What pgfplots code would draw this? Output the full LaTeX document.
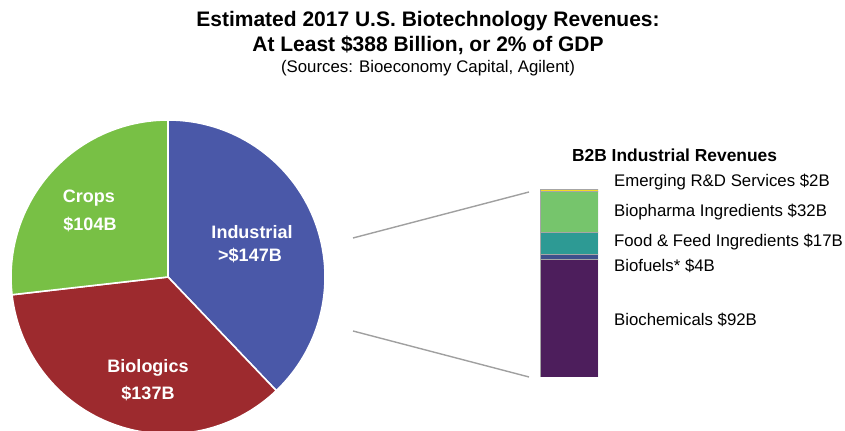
\documentclass[border=0pt]{standalone}
\usepackage{fontspec}
\setmainfont{Liberation Sans}
\usepackage{pgfplots}
\pgfplotsset{compat=1.18}
\definecolor{cInd}{RGB}{74,88,168}
\definecolor{cBio}{RGB}{157,42,46}
\definecolor{cCrop}{RGB}{120,192,69}
\definecolor{cChem}{RGB}{77,30,92}
\definecolor{cFuel}{RGB}{62,80,140}
\definecolor{cFood}{RGB}{45,154,148}
\definecolor{cPharma}{RGB}{118,197,108}
\definecolor{cRD}{RGB}{242,220,36}
\definecolor{cLine}{RGB}{160,160,160}

% pie values ($B)
\def\vInd{147}
\def\vBio{137}
\def\vCrop{104}
\pgfmathsetmacro\vTot{\vInd+\vBio+\vCrop}
\pgfmathsetmacro\aA{90}
\pgfmathsetmacro\aB{\aA-360*(\vInd/\vTot)}
\pgfmathsetmacro\aC{\aB-360*(\vBio/\vTot)}
\pgfmathsetmacro\aD{\aC-360*(\vCrop/\vTot)}
\def\R{78.5pt}

\begin{document}
\begin{tikzpicture}
\useasboundingbox (0,0) rectangle (422.5pt,215.5pt);
% main canvas: 1 unit = 1 px of the reference
\begin{axis}[
  at={(0,0)},anchor=south west,
  scale only axis,width=422.5pt,height=215.5pt,
  xmin=0,xmax=845,ymin=0,ymax=431,
  hide axis,clip=true,
]
\fill[cInd,draw=white,line width=0.8pt] (axis cs:168,154) -- +(\aA:\R) arc[start angle=\aA,end angle=\aB,radius=\R] -- cycle;
\fill[cBio,draw=white,line width=0.8pt] (axis cs:168,154) -- +(\aB:\R) arc[start angle=\aB,end angle=\aC,radius=\R] -- cycle;
\fill[cCrop,draw=white,line width=0.8pt] (axis cs:168,154) -- +(\aC:\R) arc[start angle=\aC,end angle=\aD,radius=\R] -- cycle;
% connectors
\addplot[cLine,line width=0.7pt] coordinates {(353,193) (529,239)};
\addplot[cLine,line width=0.7pt] coordinates {(353,100) (529,54)};
% pie labels
\begin{scope}[every node/.style={text=white,font=\fontsize{9}{10.8}\selectfont\bfseries}]
\node at (axis cs:252,199) {Industrial};
\node at (axis cs:250,176) {>\$147B};
\node at (axis cs:89,233) {Crops};
\node at (axis cs:90,207) {\$104B};
\node at (axis cs:148,63) {Biologics};
\node at (axis cs:148,38) {\$137B};
\end{scope}
% titles
\node[font=\fontsize{10.5}{12.6}\selectfont\bfseries] at (axis cs:428,410) {Estimated 2017 U.S. Biotechnology Revenues:};
\node[font=\fontsize{10.5}{12.6}\selectfont\bfseries] at (axis cs:428,386) {At Least \$388 Billion, or 2\% of GDP};
\node[font=\fontsize{8.4}{10}\selectfont] at (axis cs:428,363) {(Sources: Bioeconomy Capital, Agilent)};
% bar labels
\node[anchor=west,font=\fontsize{8.7}{10.4}\selectfont\bfseries] at (axis cs:565,276) {B2B Industrial Revenues};
\begin{scope}[every node/.style={anchor=west,font=\fontsize{8.4}{10}\selectfont}]
\node at (axis cs:607,249) {Emerging R\&D Services \$2B};
\node at (axis cs:607,219) {Biopharma Ingredients \$32B};
\node at (axis cs:607,189) {Food \& Feed Ingredients \$17B};
\node at (axis cs:607,165) {Biofuels* \$4B};
\node at (axis cs:607,111) {Biochemicals \$92B};
\end{scope}
\end{axis}
% stacked bar of industrial revenues
\begin{axis}[
  at={(270pt,27pt)},anchor=south west,
  scale only axis,width=29pt,height=94pt,
  xmin=-0.5,xmax=0.5,ymin=0,ymax=147,
  hide axis,ybar stacked,bar width=1,
]
\addplot[fill=cChem,draw=gray!70,line width=0.3pt] coordinates {(0,92)};
\addplot[fill=cFuel,draw=gray!70,line width=0.3pt] coordinates {(0,4)};
\addplot[fill=cFood,draw=gray!70,line width=0.3pt] coordinates {(0,17)};
\addplot[fill=cPharma,draw=gray!70,line width=0.3pt] coordinates {(0,32)};
\addplot[fill=cRD,draw=gray!70,line width=0.3pt] coordinates {(0,2)};
\end{axis}
\end{tikzpicture}
\end{document}
